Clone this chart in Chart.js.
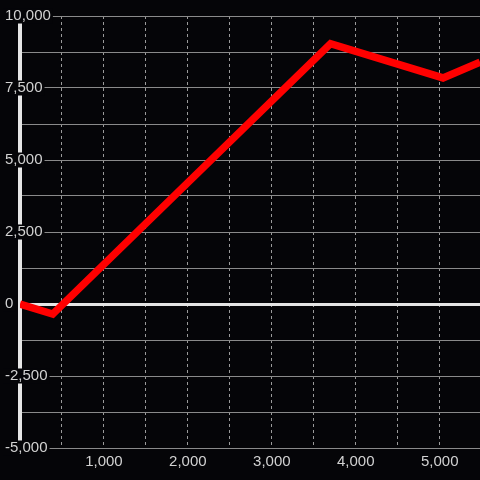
<!DOCTYPE html>
<html>
<head>
<meta charset="utf-8">
<script src="https://cdn.jsdelivr.net/npm/chart.js@4"></script>
<style>
  html, body { margin: 0; padding: 0; background: #050508; }
  #wrap { width: 480px; height: 480px; }
</style>
</head>
<body>
<div id="wrap"><canvas id="lineChart" width="480" height="480"></canvas></div>
<script>
// values
var xValues = [0, 390, 3700, 5040, 5480];
var yValues = [0, -350, 9040, 7850, 8400];

// grid positions and which of them carry a label
var xTicks = [0, 500, 1000, 1500, 2000, 2500, 3000, 3500, 4000, 4500, 5000];
var xTickLabels = ['', '', '1,000', '', '2,000', '', '3,000', '', '4,000', '', '5,000'];
var yTicks = [-5000, -3750, -2500, -1250, 0, 1250, 2500, 3750, 5000, 6250, 7500, 8750, 10000];
var yTickLabels = ['-5,000', '', '-2,500', '', '0', '', '2,500', '', '5,000', '', '7,500', '', '10,000'];

var xMin = 0, xMax = 5480;
var yMin = -5000, yMax = 10000;

var bgColor = '#050508';

var points = [];
for (var i = 0; i < xValues.length; i++) {
    points.push({ x: xValues[i], y: yValues[i] });
}

function useTicks(values) {
    return function(scale) {
        scale.ticks = values.map(function(v) { return { value: v }; });
    };
}

function labelFor(values, labels) {
    return function(value) {
        var idx = values.indexOf(value);
        return idx >= 0 ? labels[idx] : '';
    };
}

const ctx = document.getElementById('lineChart');

new Chart(ctx, {
    type: 'line',
    data: {
        datasets: [{
            data: points,
            borderColor: '#ff0000',
            borderWidth: 7.5,
            borderJoinStyle: 'miter',
            pointRadius: 0,
            tension: 0,
            fill: false
        }]
    },
    options: {
        responsive: false,
        animation: false,
        layout: {
            padding: { top: 16, right: 0, bottom: 0, left: 0 }
        },
        plugins: {
            legend: { display: false },
            tooltip: { enabled: false }
        },
        scales: {
            x: {
                type: 'linear',
                min: xMin,
                max: xMax,
                afterBuildTicks: useTicks(xTicks),
                afterFit: function(scale) {
                    scale.height = 32;
                    scale.paddingLeft = 0;
                    scale.paddingRight = 0;
                },
                grid: {
                    drawTicks: false,
                    lineWidth: 1,
                    color: function(c) {
                        if (c.tick && c.tick.value === 0) return 'rgba(0,0,0,0)';
                        return '#9a9a9a';
                    }
                },
                border: { display: false, dash: [3, 3] },
                ticks: {
                    maxRotation: 0,
                    autoSkip: false,
                    padding: 6,
                    color: '#d2d2d2',
                    font: { family: 'Liberation Sans', size: 15, lineHeight: 1 },
                    callback: labelFor(xTicks, xTickLabels)
                }
            },
            y: {
                type: 'linear',
                min: yMin,
                max: yMax,
                afterBuildTicks: useTicks(yTicks),
                afterFit: function(scale) { scale.width = 20; },
                grid: {
                    drawTicks: false,
                    lineWidth: function(c) {
                        return (c.tick && c.tick.value === 0) ? 3 : 1;
                    },
                    color: function(c) {
                        return (c.tick && c.tick.value === 0) ? '#e6e6e6' : '#8a8a8a';
                    }
                },
                border: { display: true, color: '#e6e6e6', width: 4 },
                ticks: {
                    autoSkip: false,
                    mirror: true,
                    crossAlign: 'near',
                    padding: -15,
                    color: '#d2d2d2',
                    font: { family: 'Liberation Sans', size: 15, lineHeight: 1 },
                    showLabelBackdrop: function(c) {
                        return c.tick && c.tick.value % 2500 === 0;
                    },
                    backdropColor: bgColor,
                    backdropPadding: { top: 0, bottom: 0, left: 2, right: 2 },
                    callback: labelFor(yTicks, yTickLabels)
                }
            }
        }
    }
});
</script>
</body>
</html>
